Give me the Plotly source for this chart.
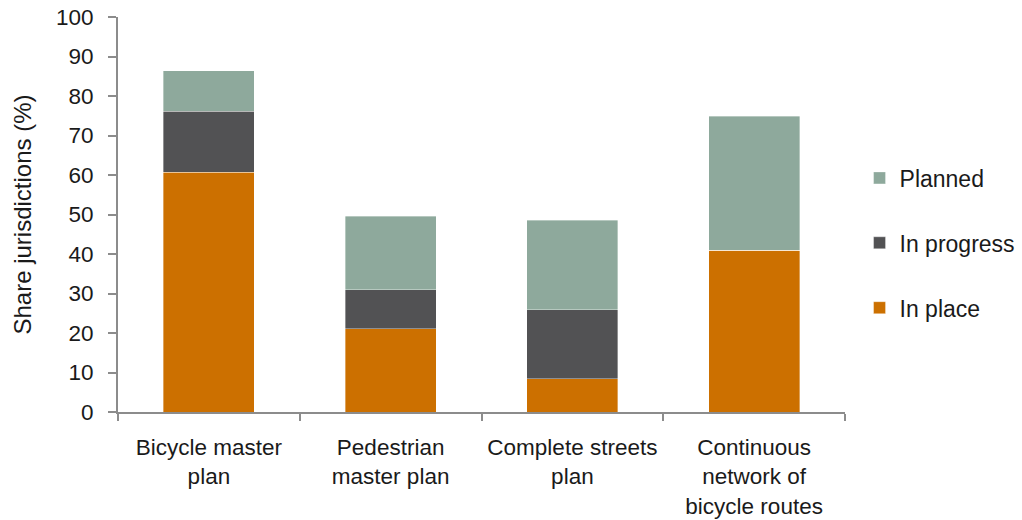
import plotly.graph_objects as go

categories = [
    "Bicycle master<br>plan",
    "Pedestrian<br>master plan",
    "Complete streets<br>plan",
    "Continuous<br>network of<br>bicycle routes",
]
in_place = [60.7, 21.1, 8.4, 41.0]
in_progress = [15.5, 9.9, 17.5, 0.0]
planned = [10.2, 18.6, 22.7, 33.9]
y_ticks = list(range(0, 101, 10))

# (name, values, colour, legend rank: Planned listed first)
series = [
    ("In place", in_place, "#CC7000", 3),
    ("In progress", in_progress, "#525254", 2),
    ("Planned", planned, "#8EA99C", 1),
]

FONT = "Liberation Sans, Arial, sans-serif"
AXIS_COLOR = "#8C8C8C"

fig = go.Figure()
for name, vals, color, rank in series:
    fig.add_trace(go.Bar(
        x=categories,
        y=vals,
        name=name,
        legendgroup=name,
        legendrank=rank,
        marker=dict(color=color, line=dict(width=0.6, color="rgba(255,255,255,0.6)")),
    ))

fig.update_layout(
    barmode="stack",
    bargap=0.5,
    width=1022,
    height=520,
    margin=dict(l=118, r=177, t=17, b=108, autoexpand=False),
    paper_bgcolor="white",
    plot_bgcolor="white",
    font=dict(family=FONT, color="#1a1a1a", size=22),
    showlegend=True,
    legend=dict(
        x=1.02, xanchor="left",
        y=0.428, yanchor="middle",
        traceorder="grouped",
        tracegroupgap=32,
        font=dict(size=23, family=FONT),
        bgcolor="rgba(0,0,0,0)",
    ),
    xaxis=dict(
        showline=True,
        linecolor=AXIS_COLOR,
        linewidth=2,
        ticks="outside",
        tickson="boundaries",
        ticklen=7,
        tickcolor=AXIS_COLOR,
        tickwidth=2,
        tickangle=0,
        automargin=False,
        tickfont=dict(size=22.5, family=FONT),
        ticklabelstandoff=14,
        showgrid=False,
    ),
    yaxis=dict(
        range=[0, 100],
        tickvals=y_ticks,
        showline=True,
        linecolor=AXIS_COLOR,
        linewidth=2,
        ticks="outside",
        ticklen=8,
        tickcolor=AXIS_COLOR,
        tickwidth=2,
        automargin=False,
        tickfont=dict(size=22.5, family=FONT),
        ticklabelstandoff=10,
        showgrid=False,
        zeroline=False,
        title=dict(text="Share jurisdictions (%)", font=dict(size=24, family=FONT), standoff=18),
    ),
)

fig.write_html("out.html")
